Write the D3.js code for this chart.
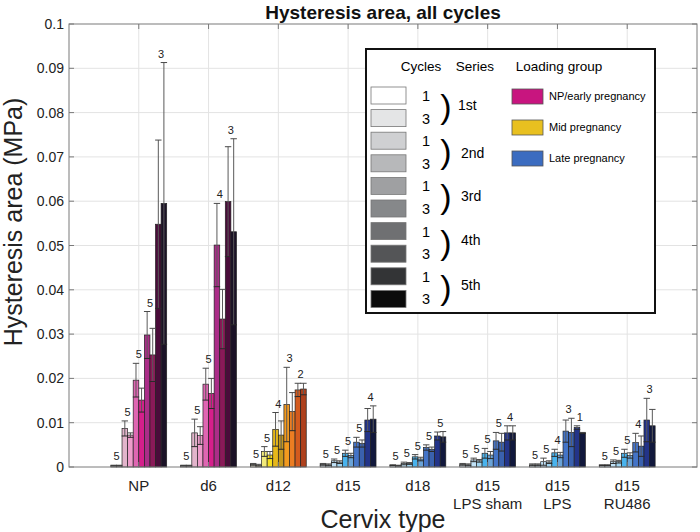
<!DOCTYPE html>
<html><head><meta charset="utf-8">
<script src="https://cdn.jsdelivr.net/npm/d3@7"></script>
<style>body{margin:0;background:#fff}svg{font-family:"Liberation Sans",Arial,sans-serif}</style>
</head><body><svg id="c" width="700" height="532"></svg>
<script>
const categories = ["NP","d6","d12","d15","d18","d15\nLPS sham","d15\nLPS","d15\nRU486"];
const loadingGroup = ["early","early","mid","late","late","late","late","late"];
const barLabels = ["S1 C1","S1 C3","S2 C1","S2 C3","S3 C1","S3 C3","S4 C1","S4 C3","S5 C1","S5 C3"];
const meanNP    = [0.0003,0.0003,0.0087,0.0072,0.0196,0.0151,0.0298,0.0253,0.0548,0.0595];
const errNP     = [0.0001,0.0001,0.0017,0.0005,0.0038,0.0027,0.0053,0.0060,0.0190,0.0318];
const meanD6    = [0.0003,0.0003,0.0077,0.0071,0.0187,0.0166,0.0501,0.0334,0.0599,0.0531];
const errD6     = [0.0001,0.0001,0.0031,0.0020,0.0036,0.0034,0.0094,0.0067,0.0124,0.0210];
const meanD12   = [0.0006,0.0004,0.0035,0.0027,0.0085,0.0072,0.0141,0.0125,0.0174,0.0176];
const errD12    = [0.0002,0.0002,0.0011,0.0008,0.0038,0.0032,0.0084,0.0043,0.0015,0.0013];
const meanD15   = [0.0006,0.0005,0.0014,0.0011,0.0031,0.0026,0.0056,0.0053,0.0106,0.0108];
const errD15    = [0.0002,0.0002,0.0004,0.0003,0.0007,0.0005,0.0011,0.0008,0.0026,0.0030];
const meanD18   = [0.0004,0.0003,0.0008,0.0008,0.0023,0.0018,0.0044,0.0040,0.0070,0.0068];
const errD18    = [0.0001,0.0001,0.0003,0.0002,0.0005,0.0004,0.0006,0.0005,0.0009,0.0012];
const meanSham  = [0.0006,0.0005,0.0016,0.0014,0.0031,0.0027,0.0059,0.0056,0.0077,0.0077];
const errSham   = [0.0002,0.0002,0.0004,0.0003,0.0011,0.0008,0.0019,0.0020,0.0016,0.0016];
const meanLPS   = [0.0005,0.0005,0.0012,0.0011,0.0032,0.0027,0.0081,0.0078,0.0089,0.0077];
const errLPS    = [0.0002,0.0002,0.0008,0.0003,0.0008,0.0006,0.0025,0.0032,0.0004,0.0001];
const meanRU    = [0.0004,0.0004,0.0012,0.0012,0.0031,0.0026,0.0055,0.0047,0.0106,0.0093];
const errRU     = [0.0001,0.0001,0.0004,0.0003,0.0009,0.0006,0.0021,0.0023,0.0049,0.0037];
const nNP   = [5,5,5,5,3];
const nD6   = [5,5,5,4,3];
const nD12  = [5,5,4,3,2];
const nD15  = [5,5,5,5,4];
const nD18  = [5,5,5,5,5];
const nSham = [5,5,5,5,4];
const nLPS  = [5,5,4,3,1];
const nRU   = [5,5,5,4,3];
const yTicks = [0,0.01,0.02,0.03,0.04,0.05,0.06,0.07,0.08,0.09,0.1];
const yTickLabels = ["0","0.01","0.02","0.03","0.04","0.05","0.06","0.07","0.08","0.09","0.1"];
const legendCycles = ["1","3","1","3","1","3","1","3","1","3"];
const legendSeries = ["1st","2nd","3rd","4th","5th"];
const legendGroups = ["NP/early pregnancy","Mid pregnancy","Late pregnancy"];

const means = [meanNP,meanD6,meanD12,meanD15,meanD18,meanSham,meanLPS,meanRU];
const errs  = [errNP,errD6,errD12,errD15,errD18,errSham,errLPS,errRU];
const ns    = [nNP,nD6,nD12,nD15,nD18,nSham,nLPS,nRU];

const palettes = {
  early: ['#f6eef2','#f0dde7','#e2b4cb','#ee9ccb','#df66b2','#d51f8b','#ab2d88','#8a1a58','#4a0c3a','#1b1226'],
  mid:   ['#fbf7e2','#f8f0c4','#f2ea7a','#f7df1e','#e6b71a','#c6991d','#f29a1f','#ec7d22','#d45a1d','#ae401d'],
  late:  ['#e9f4fc','#d5ecfa','#c0e2f7','#a0d4f0','#49b3ed','#6aa3d7','#4474c7','#3a61ae','#233489','#11183c']
};
const grays = ['#ffffff','#e4e5e6','#cfd0d2','#b7b8ba','#9fa0a2','#86888a','#6f7072','#545557','#333436','#0b0b0b'];
const groupColors = ['#c8157f','#e8c020','#3b6cc0'];

const svg = d3.select("#c");
const L=69, R=697, T=24, B=467;
const x = d3.scaleLinear().domain([0,9]).range([L,R]);
const y = d3.scaleLinear().domain([0,0.1]).range([B,T]);
const step = x(1)-x(0);
const inner = d3.scaleBand().domain(d3.range(10)).range([-0.4*step,0.4*step]).padding(0);
const bw = inner.bandwidth();

// grid
const g = svg.append("g");
g.selectAll(".hg").data(yTicks.slice(1,-1)).join("line")
  .attr("x1",L).attr("x2",R).attr("y1",d=>y(d)).attr("y2",d=>y(d))
  .attr("stroke","#e3e3e3").attr("stroke-width",1);
g.selectAll(".vg").data(categories).join("line")
  .attr("x1",(d,i)=>x(i+1)).attr("x2",(d,i)=>x(i+1)).attr("y1",T).attr("y2",B)
  .attr("stroke","#e3e3e3").attr("stroke-width",1);

// bars
categories.forEach((c,ci)=>{
  const cx = x(ci+1);
  const pal = palettes[loadingGroup[ci]];
  const gg = svg.append("g");
  gg.selectAll("rect").data(means[ci]).join("rect")
    .attr("x",(d,i)=>cx+inner(i)).attr("width",bw)
    .attr("y",d=>y(d)).attr("height",d=>B-y(d))
    .attr("fill",(d,i)=>pal[i]).attr("stroke","#222").attr("stroke-width",0.7);
  const eb = gg.selectAll(".eb").data(means[ci]).join("g");
  const capw = 3.2;
  eb.append("line").attr("x1",(d,i)=>cx+inner(i)+bw/2).attr("x2",(d,i)=>cx+inner(i)+bw/2)
    .attr("y1",(d,i)=>y(Math.max(0,d-errs[ci][i]))).attr("y2",(d,i)=>y(d+errs[ci][i]))
    .attr("stroke","#5a5a5a").attr("stroke-width",1);
  eb.append("line").attr("x1",(d,i)=>cx+inner(i)+bw/2-capw).attr("x2",(d,i)=>cx+inner(i)+bw/2+capw)
    .attr("y1",(d,i)=>y(d+errs[ci][i])).attr("y2",(d,i)=>y(d+errs[ci][i]))
    .attr("stroke","#4a4a4a").attr("stroke-width",1);
  eb.append("line").attr("x1",(d,i)=>cx+inner(i)+bw/2-capw).attr("x2",(d,i)=>cx+inner(i)+bw/2+capw)
    .attr("y1",(d,i)=>y(Math.max(0,d-errs[ci][i]))).attr("y2",(d,i)=>y(Math.max(0,d-errs[ci][i])))
    .attr("stroke","#2a2a2a").attr("stroke-width",1);
  gg.selectAll(".nl").data(ns[ci]).join("text")
    .attr("x",(d,s)=>cx+inner(2*s)+bw)
    .attr("y",(d,s)=>{const top=Math.max(means[ci][2*s]+errs[ci][2*s],means[ci][2*s+1]+errs[ci][2*s+1]);return y(top)-5;})
    .attr("text-anchor","middle").attr("font-size",11).attr("fill","#222").text(d=>d);
});

// axes box
svg.append("rect").attr("x",L).attr("y",T).attr("width",R-L).attr("height",B-T)
  .attr("fill","none").attr("stroke","#7a7a7a").attr("stroke-width",1);
svg.selectAll(".ytl").data(yTicks).join("line")
  .attr("x1",L).attr("x2",L+5).attr("y1",d=>y(d)).attr("y2",d=>y(d)).attr("stroke","#7a7a7a");
svg.selectAll(".ytr").data(yTicks).join("line")
  .attr("x1",R-5).attr("x2",R).attr("y1",d=>y(d)).attr("y2",d=>y(d)).attr("stroke","#7a7a7a");
svg.selectAll(".xtb").data(categories).join("line")
  .attr("x1",(d,i)=>x(i+1)).attr("x2",(d,i)=>x(i+1)).attr("y1",B).attr("y2",B-5).attr("stroke","#7a7a7a");
svg.selectAll(".xtt").data(categories).join("line")
  .attr("x1",(d,i)=>x(i+1)).attr("x2",(d,i)=>x(i+1)).attr("y1",T).attr("y2",T+5).attr("stroke","#7a7a7a");
svg.selectAll(".ylab").data(yTicks).join("text")
  .attr("x",L-5).attr("y",d=>y(d)+5).attr("text-anchor","end").attr("font-size",14).attr("fill","#222")
  .text((d,i)=>yTickLabels[i]);
categories.forEach((c,ci)=>{
  const t = svg.append("text").attr("x",x(ci+1)).attr("y",491).attr("text-anchor","middle")
    .attr("font-size",15).attr("fill","#222");
  c.split("\n").forEach((line,li)=>t.append("tspan").attr("x",x(ci+1)).attr("dy",li?18:0).text(line));
});
svg.append("text").attr("x",383).attr("y",528).attr("text-anchor","middle").attr("font-size",25).attr("fill","#222").text("Cervix type");
svg.append("text").attr("transform","translate(22,222) rotate(-90)").attr("text-anchor","middle").attr("font-size",25).attr("fill","#222").text("Hysteresis area (MPa)");
svg.append("text").attr("x",383).attr("y",19).attr("text-anchor","middle").attr("font-size",19).attr("font-weight","bold").attr("fill","#111").text("Hysteresis area, all cycles");

// legend
const lg = svg.append("g");
lg.append("rect").attr("x",366).attr("y",49).attr("width",289).attr("height",264).attr("fill","#fff").attr("stroke","#111").attr("stroke-width",2);
lg.append("text").attr("x",421).attr("y",71).attr("text-anchor","middle").attr("font-size",13.5).text("Cycles");
lg.append("text").attr("x",475).attr("y",71).attr("text-anchor","middle").attr("font-size",13.5).text("Series");
lg.append("text").attr("x",559).attr("y",71).attr("text-anchor","middle").attr("font-size",13.5).text("Loading group");
lg.selectAll(".gs").data(grays).join("rect")
  .attr("x",371).attr("y",(d,i)=>87+i*22.6).attr("width",35).attr("height",17)
  .attr("fill",d=>d).attr("stroke","#777").attr("stroke-width",0.8);
lg.selectAll(".cn").data(legendCycles).join("text")
  .attr("x",426).attr("y",(d,i)=>87+i*22.6+14).attr("text-anchor","middle").attr("font-size",14.5).text(d=>d);
lg.selectAll(".br").data(legendSeries).join("text")
  .attr("x",446).attr("y",(d,i)=>118+i*45.2).attr("text-anchor","middle").attr("font-size",34).attr("font-weight","300").text(")");
lg.selectAll(".sl").data(legendSeries).join("text")
  .attr("x",(d,i)=>i===0?458:461).attr("y",(d,i)=>[110,158,201,245,290][i]).attr("font-size",14).text(d=>d);
lg.selectAll(".lgr").data(legendGroups).join("rect")
  .attr("x",512).attr("y",(d,i)=>89+i*31).attr("width",31).attr("height",15)
  .attr("fill",(d,i)=>groupColors[i]).attr("stroke","#555").attr("stroke-width",0.8);
lg.selectAll(".lgt").data(legendGroups).join("text")
  .attr("x",549).attr("y",(d,i)=>100+i*31).attr("font-size",11).text(d=>d);
</script></body></html>
